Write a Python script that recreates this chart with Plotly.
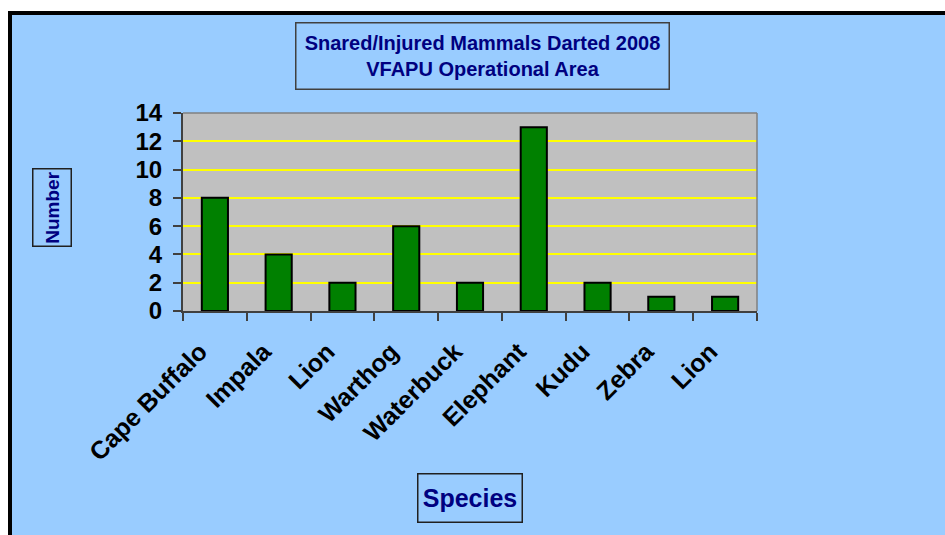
import plotly.graph_objects as go

species = ["Cape Buffalo", "Impala", "Lion", "Warthog", "Waterbuck",
           "Elephant", "Kudu", "Zebra", "Lion"]
counts = [8, 4, 2, 6, 2, 13, 2, 1, 1]
y_ticks = [0, 2, 4, 6, 8, 10, 12, 14]
title_lines = ["Snared/Injured Mammals Darted 2008", "VFAPU Operational Area"]
x_title = "Species"
y_title = "Number"

W, H = 945, 535
L, R, T, B = 183, 188, 113, 224
PW, PH = W - L - R, H - T - B


def px_x(p):
    return (p - L) / PW


def px_y(p):
    return (H - B - p) / PH


FONT = "Liberation Sans, Arial, sans-serif"
NAVY = "#000080"
AXIS = "#404040"

xs = list(range(len(species)))

fig = go.Figure(
    go.Bar(
        x=xs,
        y=counts,
        marker=dict(color="#008000", line=dict(color="black", width=2)),
        hoverinfo="x+y",
    )
)

fig.update_layout(
    width=W,
    height=H,
    margin=dict(l=L, r=R, t=T, b=B, pad=0),
    paper_bgcolor="#99CCFF",
    plot_bgcolor="#C0C0C0",
    bargap=0.59,
    showlegend=False,
    font=dict(family=FONT, size=24, color="black", weight="bold"),
)

fig.update_xaxes(
    range=[-0.5, len(species) - 0.5],
    tickmode="array",
    tickvals=xs,
    ticktext=species,
    tickangle=-45,
    ticks="",
    showgrid=False,
    zeroline=False,
    showline=True,
    linecolor=AXIS,
    linewidth=2,
    ticklabelstandoff=14,
    ticklabelshift=-15,
    tickfont=dict(family=FONT, size=25, color="black", weight="bold"),
    minor=dict(
        tickmode="array",
        tickvals=[i - 0.5 for i in range(len(species) + 1)],
        ticks="outside",
        ticklen=8,
        tickwidth=1.5,
        tickcolor=AXIS,
        showgrid=False,
    ),
)

fig.update_yaxes(
    range=[0, 14],
    tickmode="array",
    tickvals=y_ticks,
    ticks="outside",
    ticklen=8,
    tickwidth=1.5,
    tickcolor=AXIS,
    showgrid=True,
    gridcolor="#FFFF00",
    gridwidth=1.5,
    zeroline=False,
    showline=True,
    linecolor=AXIS,
    linewidth=2,
    ticklabelstandoff=6,
    tickfont=dict(family=FONT, size=24, color="black", weight="bold"),
)

shapes = [
    # white strip on top and left of the outer frame
    dict(type="rect", xref="paper", yref="paper",
         x0=px_x(-5), x1=px_x(W + 5), y0=px_y(13), y1=px_y(-5),
         fillcolor="white", line=dict(width=0), layer="above"),
    dict(type="rect", xref="paper", yref="paper",
         x0=px_x(-5), x1=px_x(10), y0=px_y(H + 5), y1=px_y(-5),
         fillcolor="white", line=dict(width=0), layer="above"),
    # outer frame
    dict(type="rect", xref="paper", yref="paper",
         x0=px_x(10), x1=px_x(W + 40), y0=px_y(H + 40), y1=px_y(13),
         fillcolor="rgba(0,0,0,0)", line=dict(color="black", width=4),
         layer="above"),
    # plot area border top and right
    dict(type="line", xref="paper", yref="paper", x0=0, x1=1, y0=1, y1=1,
         line=dict(color="#808080", width=1.5), layer="above"),
    dict(type="line", xref="paper", yref="paper", x0=1, x1=1, y0=0, y1=1,
         line=dict(color="#808080", width=1.5), layer="above"),
]

annotations = [
    dict(text="<br>".join(title_lines), xref="paper", yref="paper",
         x=px_x(482.5), y=px_y(56), xanchor="center", yanchor="middle",
         showarrow=False, width=372, height=65, borderpad=0,
         bordercolor="#404040", borderwidth=1.5, align="center",
         font=dict(family=FONT, size=20, color=NAVY, weight="bold")),
    dict(text=y_title, xref="paper", yref="paper",
         x=px_x(52), y=px_y(208), xanchor="center", yanchor="middle",
         showarrow=False, textangle=-90, width=76, height=37, borderpad=0,
         bordercolor="#202020", borderwidth=1.5,
         font=dict(family=FONT, size=19, color=NAVY, weight="bold")),
    dict(text=x_title, xref="paper", yref="paper",
         x=px_x(470), y=px_y(498), xanchor="center", yanchor="middle",
         showarrow=False, width=103, height=47, borderpad=0,
         bordercolor="#202020", borderwidth=1.5,
         font=dict(family=FONT, size=25, color=NAVY, weight="bold")),
]

fig.update_layout(shapes=shapes, annotations=annotations)

fig.write_html(
    "out.html",
    config={"displayModeBar": False},
    post_script="document.body.style.margin='0';document.body.style.overflow='hidden';",
)
